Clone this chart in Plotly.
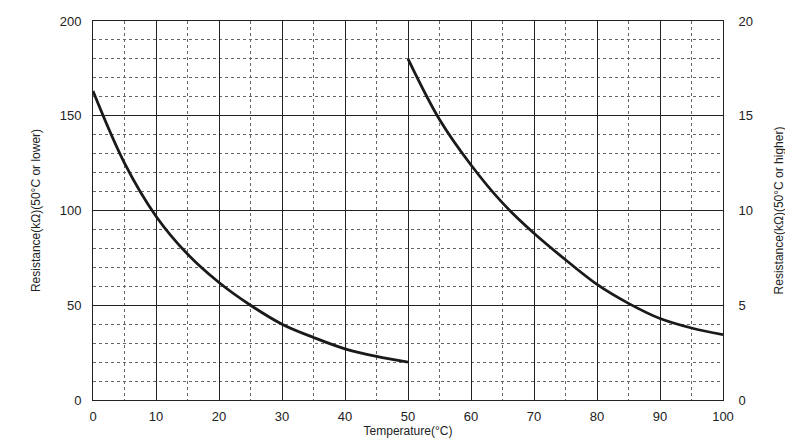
import plotly.graph_objects as go

temp_low = [0, 5, 10, 15, 20, 25, 30, 35, 40, 45, 50]
res_low = [163, 125, 97, 77, 62, 50, 40, 33, 27, 23, 20]
temp_high = [50, 55, 60, 65, 70, 75, 80, 85, 90, 95, 100]
res_high = [18, 14.8, 12.4, 10.4, 8.8, 7.4, 6.1, 5.1, 4.3, 3.8, 3.45]

fig = go.Figure()
fig.add_trace(go.Scatter(x=temp_low, y=res_low, mode="lines", line=dict(color="#1a1a1a", width=2.8, shape="spline"), showlegend=False))
fig.add_trace(go.Scatter(x=temp_high, y=res_high, mode="lines", yaxis="y2", line=dict(color="#1a1a1a", width=2.8, shape="spline"), showlegend=False))

font = dict(family="Liberation Sans, Arial", size=13, color="#222")
tfont = dict(family="Liberation Sans, Arial", size=12, color="#222")
fig.update_layout(
    width=793, height=445, plot_bgcolor="white", paper_bgcolor="white",
    margin=dict(l=85, r=78, t=13, b=53), font=font,
    xaxis=dict(range=[0, 100], dtick=10, showgrid=True, gridcolor="#222", gridwidth=1,
               minor=dict(dtick=5, showgrid=True, gridcolor="#666", griddash="dot", gridwidth=1),
               showline=True, linecolor="#222", mirror=True, ticks="outside", ticklen=4, tickcolor="rgba(0,0,0,0)",
               zeroline=False, automargin=False,
               title=dict(text="Temperature(°C)", standoff=0, font=tfont)),
    yaxis=dict(range=[0, 200], dtick=50, showgrid=True, gridcolor="#222", gridwidth=1,
               minor=dict(dtick=10, showgrid=True, gridcolor="#666", griddash="dot", gridwidth=1),
               showline=True, linecolor="#222", mirror=True, ticks="outside", ticklen=8, tickcolor="rgba(0,0,0,0)",
               zeroline=False, automargin=False,
               title=dict(text="Resistance(kΩ)(50°C or lower)", standoff=16, font=tfont)),
    yaxis2=dict(range=[0, 20], dtick=5, overlaying="y", side="right", showgrid=False, zeroline=False,
                ticks="outside", ticklen=12, tickcolor="rgba(0,0,0,0)", automargin=False,
                title=dict(text="Resistance(kΩ)(50°C or higher)", standoff=22, font=tfont)),
)
fig.write_html("out.html")
